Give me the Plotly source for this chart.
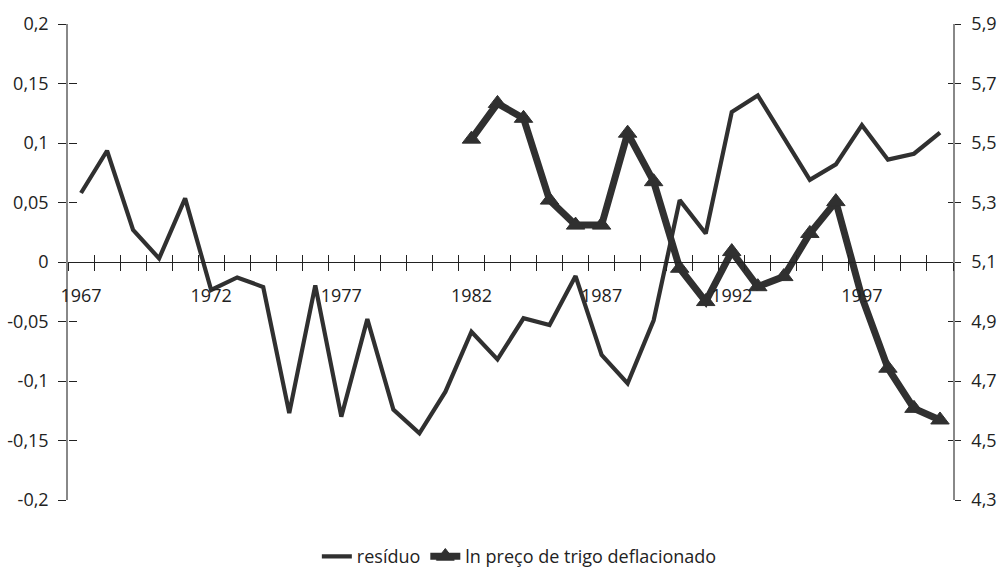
import plotly.graph_objects as go

years = list(range(1967, 2001))
residuo = [0.058, 0.0935, 0.027, 0.003, 0.0535, -0.0235, -0.013, -0.021, -0.127, -0.0196,
           -0.130, -0.048, -0.124, -0.144, -0.109, -0.0586, -0.0818, -0.0473, -0.053, -0.0118,
           -0.078, -0.102, -0.049, 0.052, 0.024, 0.126, 0.140, 0.105, 0.069, 0.082,
           0.115, 0.086, 0.091, 0.1087]
preco = [None] * 15 + [5.513, 5.633, 5.583, 5.308, 5.224, 5.224, 5.533, 5.37, 5.079, 4.967,
                       5.135, 5.017, 5.051, 5.196, 5.303, 4.982, 4.743, 4.608, 4.569]

x_label_years = [1967, 1972, 1977, 1982, 1987, 1992, 1997]
left_tickvals = [0.2, 0.15, 0.1, 0.05, 0, -0.05, -0.1, -0.15, -0.2]
left_ticktext = ["0,2", "0,15", "0,1", "0,05", "0", "-0,05", "-0,1", "-0,15", "-0,2"]
right_tickvals = [5.9, 5.7, 5.5, 5.3, 5.1, 4.9, 4.7, 4.5, 4.3]
right_ticktext = ["5,9", "5,7", "5,5", "5,3", "5,1", "4,9", "4,7", "4,5", "4,3"]

boundaries = [y - 0.5 for y in years] + [years[-1] + 0.5]
xr = [years[0] - 0.5, years[-1] + 0.5]

DARK = "#303030"
FONT = dict(family="Open Sans", size=18, color="#222222")

fig = go.Figure()
# visible series
fig.add_trace(go.Scatter(x=years, y=residuo, name="resíduo", mode="lines",
                         line=dict(color=DARK, width=4.2), xaxis="x", yaxis="y",
                         hoverinfo="skip"))
fig.add_trace(go.Scatter(x=years, y=preco, name="ln preço de trigo deflacionado",
                         mode="lines+markers",
                         line=dict(color=DARK, width=7),
                         marker=dict(symbol="triangle-up", color=DARK, opacity=1,
                                     line=dict(width=1, color=DARK),
                                     size=[0 if yr == 1997 else 16 for yr in years]),
                         xaxis="x", yaxis="y2", hoverinfo="skip"))
# transparent copies that only anchor the overlay axes carrying the crossing tick marks
fig.add_trace(go.Scatter(x=years, y=residuo, mode="lines", opacity=0, showlegend=False,
                         xaxis="x2", yaxis="y3", hoverinfo="skip"))
fig.add_trace(go.Scatter(x=years, y=preco, mode="lines", opacity=0, showlegend=False,
                         xaxis="x3", yaxis="y4", hoverinfo="skip"))

common_x = dict(range=xr, type="linear", showgrid=False, zeroline=False,
                anchor="free", position=0.5)
common_y = dict(showgrid=False, zeroline=False)
fig.update_layout(
    width=999, height=571,
    margin=dict(l=68, r=46, t=24, b=71, autoexpand=False),
    paper_bgcolor="white", plot_bgcolor="white",
    font=FONT,
    showlegend=True,
    hovermode=False,
    legend=dict(orientation="h", x=0.51, xanchor="center", y=-0.08, yanchor="top",
                font=FONT, traceorder="normal"),
    xaxis=dict(**common_x, showline=True, linecolor="#222222", linewidth=1.2,
               tickvals=x_label_years, ticktext=[str(v) for v in x_label_years],
               ticks="", ticklabelstandoff=17, tickfont=FONT),
    xaxis2=dict(**common_x, overlaying="x", showline=False,
                tickvals=boundaries, ticks="outside", ticklen=8, tickcolor="#222222",
                tickwidth=1.2, showticklabels=False),
    xaxis3=dict(**common_x, overlaying="x", showline=False,
                tickvals=boundaries, ticks="inside", ticklen=7, tickcolor="#222222",
                tickwidth=1.2, showticklabels=False),
    yaxis=dict(**common_y, range=[-0.2, 0.2], tickvals=left_tickvals, ticktext=left_ticktext,
               ticks="outside", ticklen=8, tickcolor="#222222", showline=True,
               linecolor="#888888", linewidth=1.5, side="left", tickfont=FONT,
               ticklabelstandoff=6),
    yaxis2=dict(**common_y, range=[4.3, 5.9], tickvals=right_tickvals, ticktext=right_ticktext,
                overlaying="y", side="right", ticks="outside", ticklen=6,
                tickcolor="#222222", showline=True, linecolor="#888888", linewidth=1.5,
                tickfont=FONT, ticklabelstandoff=7),
    yaxis3=dict(**common_y, range=[-0.2, 0.2], tickvals=left_tickvals, overlaying="y",
                ticks="inside", ticklen=8, tickcolor="#222222", showticklabels=False,
                showline=False, side="left", anchor="free", position=0),
    yaxis4=dict(**common_y, range=[4.3, 5.9], tickvals=right_tickvals, overlaying="y",
                side="right", ticks="inside", ticklen=5, tickcolor="#222222",
                showticklabels=False, showline=False, anchor="free", position=1),
)

fig.write_html("out.html", config={"displayModeBar": False},
               post_script="document.body.style.margin='0';")
